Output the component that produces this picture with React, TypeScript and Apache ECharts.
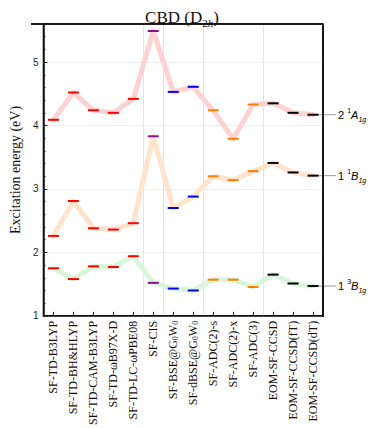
import React, { useEffect, useRef } from "react";
import * as echarts from "echarts";

const methods = [
  "SF-TD-B3LYP",
  "SF-TD-BH&HLYP",
  "SF-TD-CAM-B3LYP",
  "SF-TD-ωB97X-D",
  "SF-TD-LC-ωPBE08",
  "SF-CIS",
  "SF-BSE@G₀W₀",
  "SF-dBSE@G₀W₀",
  "SF-ADC(2)-s",
  "SF-ADC(2)-x",
  "SF-ADC(3)",
  "EOM-SF-CCSD",
  "EOM-SF-CCSD(fT)",
  "EOM-SF-CCSD(dT)",
];

// method family per category (marker colour)
const families = [
  "dft", "dft", "dft", "dft", "dft",
  "cis", "bse", "bse",
  "adc", "adc", "adc",
  "cc", "cc", "cc",
];

// group separators: category index where a new family starts
const groupStarts = [5, 6, 8, 11];

const state2A1g = [4.09, 4.52, 4.24, 4.2, 4.42, 5.49, 4.53, 4.61, 4.24, 3.79, 4.33, 4.35, 4.2, 4.17];
const state1B1g = [2.26, 2.81, 2.38, 2.36, 2.46, 3.83, 2.7, 2.88, 3.2, 3.14, 3.28, 3.41, 3.26, 3.21];
const state13B1g = [1.75, 1.58, 1.78, 1.77, 1.94, 1.52, 1.43, 1.4, 1.57, 1.57, 1.455, 1.65, 1.51, 1.47];

const yTicks = [1, 2, 3, 4, 5];

const familyColor: Record<string, string> = {
  dft: "#ff0000",
  cis: "#8a0f8a",
  bse: "#0000ff",
  adc: "#ff8000",
  cc: "#000000",
};

const stateDefs = [
  { key: "2A1g", data: state2A1g, line: "#ffd2d2", num: "2", spin: "1", sym: "A" },
  { key: "1B1g", data: state1B1g, line: "#ffe3cc", num: "1", spin: "1", sym: "B" },
  { key: "13B1g", data: state13B1g, line: "#d8f6d8", num: "1", spin: "3", sym: "B" },
];

const SERIF = "'Liberation Serif', 'DejaVu Serif', serif";
const SANS = "'Liberation Sans', Arial, sans-serif";

const GRID = { left: 31, right: 51, top: 24, bottom: 111 };
const W = 374;
const H = 428;
const GRID_RIGHT = W - GRID.right;
const GRID_BOTTOM = H - GRID.bottom;

function labelRich(m: string) {
  const parts = m.split("₀");
  if (parts.length === 1) return `{t|${m}}`;
  return parts
    .map((p, i) => (i < parts.length - 1 ? `{t|${p}}{s|0}` : p ? `{t|${p}}` : ""))
    .join("");
}

export default function App() {
  const ref = useRef<HTMLDivElement>(null);

  useEffect(() => {
    if (!ref.current) return;
    const chart = echarts.init(ref.current, undefined, { renderer: "svg" });

    const series: any[] = stateDefs.map((s, si) => ({
      type: "line",
      name: s.key,
      data: s.data.map((v, i) => ({
        value: v,
        itemStyle: { color: familyColor[families[i]], borderWidth: 0 },
      })),
      symbol: "rect",
      symbolSize: [11, 2],
      showAllSymbol: true,
      lineStyle: { color: s.line, width: 5, cap: "round", join: "round" },
      z: 3,
      markLine:
        si === 0
          ? {
              silent: true,
              symbol: "none",
              animation: false,
              label: { show: false },
              lineStyle: { color: "#111", width: 1.5, type: "solid" },
              emphasis: { disabled: true },
              data: [
                [{ x: GRID.left, y: GRID.top }, { x: GRID_RIGHT, y: GRID.top }],
                [{ x: GRID_RIGHT, y: GRID.top }, { x: GRID_RIGHT, y: GRID_BOTTOM }],
              ],
            }
          : undefined,
    }));

    const option: any = {
      animation: false,
      backgroundColor: "#ffffff",
      title: {
        text: "{a|CBD (D}{s|2}{si|h}{a|)}",
        left: 177,
        textAlign: "center",
        top: 1,
        textStyle: {
          fontWeight: "normal",
          rich: {
            a: { fontFamily: SERIF, fontSize: 17, fontWeight: "normal", color: "#111", lineHeight: 22 },
            s: { fontFamily: SERIF, fontSize: 11, fontWeight: "normal", color: "#111", lineHeight: 12, verticalAlign: "bottom" },
            si: { fontFamily: SERIF, fontSize: 11, fontWeight: "normal", fontStyle: "italic", color: "#111", lineHeight: 12, verticalAlign: "bottom" },
          },
        },
      },
      grid: { ...GRID, show: true, borderColor: "#111", borderWidth: 1.5, backgroundColor: "rgba(0,0,0,0)", containLabel: false },
      xAxis: {
        type: "category",
        data: methods,
        boundaryGap: true,
        axisLine: { show: true, lineStyle: { color: "#111", width: 1.5 } },
        axisTick: { show: true, inside: true, length: 4, alignWithLabel: true, lineStyle: { color: "#222" } },
        splitLine: {
          show: true,
          interval: (index: number) => groupStarts.includes(index),
          lineStyle: { color: "#e4e4e4", width: 1 },
        },
        axisLabel: {
          rotate: 90,
          interval: 0,
          margin: 5,
          formatter: (v: string) => labelRich(v),
          rich: {
            t: { fontFamily: SERIF, fontSize: 12, color: "#111" },
            s: { fontFamily: SERIF, fontSize: 8, color: "#111", verticalAlign: "bottom", lineHeight: 12 },
          },
        },
      },
      yAxis: [
        {
          type: "value",
          min: 1,
          max: 5.6,
          interval: 1,
          name: "Excitation energy (eV)",
          nameLocation: "middle",
          nameGap: 21,
          nameTextStyle: { fontFamily: SERIF, fontSize: 14, color: "#111" },
          axisLine: { show: true, lineStyle: { color: "#111", width: 1.5 } },
          axisTick: { show: true, inside: true, length: 4, lineStyle: { color: "#222" } },
          splitLine: { show: true, lineStyle: { color: "#eeeeee", width: 1 } },
          axisLabel: {
            showMaxLabel: false,
            margin: 5,
            fontFamily: SANS,
            fontSize: 10,
            color: "#222",
            formatter: (v: number) => (yTicks.includes(v) ? String(v) : ""),
          },
        },
        {
          type: "value",
          min: 1,
          max: 5.6,
          interval: 0.2,
          position: "left",
          axisLine: { show: false },
          axisTick: { show: true, inside: true, length: 2, lineStyle: { color: "#222" } },
          splitLine: { show: false },
          axisLabel: { show: false },
        },
      ],
      series,
    };

    chart.setOption(option);

    const graphics: any[] = [];
    stateDefs.forEach((s) => {
      const last = s.data.length - 1;
      const p = chart.convertToPixel({ xAxisIndex: 0, yAxisIndex: 0 }, [last, s.data[last]]) as number[];
      graphics.push({
        type: "line",
        shape: { x1: p[0] + 5, y1: p[1], x2: GRID_RIGHT + 13, y2: p[1] },
        style: { stroke: "#9a9a9a", lineWidth: 1 },
        z: 2,
      });
      graphics.push({
        type: "text",
        x: GRID_RIGHT + 15,
        y: p[1],
        style: {
          text: `{n|${s.num} }{sp|${s.spin}}{it|${s.sym}}{sb|1g}`,
          verticalAlign: "middle",
          rich: {
            n: { fontFamily: SANS, fontSize: 11, color: "#222", lineHeight: 16 },
            sp: { fontFamily: SANS, fontSize: 7, color: "#222", lineHeight: 9, verticalAlign: "top" },
            it: { fontFamily: SANS, fontSize: 11, fontStyle: "italic", color: "#222", lineHeight: 16 },
            sb: { fontFamily: SANS, fontSize: 7, fontStyle: "italic", color: "#222", lineHeight: 9, verticalAlign: "bottom" },
          },
        },
        z: 5,
      });
    });
    graphics.push({
      type: "line",
      shape: { x1: GRID_RIGHT, y1: GRID.top, x2: GRID_RIGHT, y2: GRID_BOTTOM },
      style: { stroke: "#111", lineWidth: 1.5 },
      z: 6,
    });
    graphics.push({
      type: "line",
      shape: { x1: GRID.left, y1: GRID.top, x2: GRID_RIGHT, y2: GRID.top },
      style: { stroke: "#111", lineWidth: 1.5 },
      z: 6,
    });
    chart.setOption({ graphic: graphics });

    return () => chart.dispose();
  }, []);

  return <div ref={ref} style={{ width: W, height: H, position: "absolute", left: 0, top: 0 }} />;
}
